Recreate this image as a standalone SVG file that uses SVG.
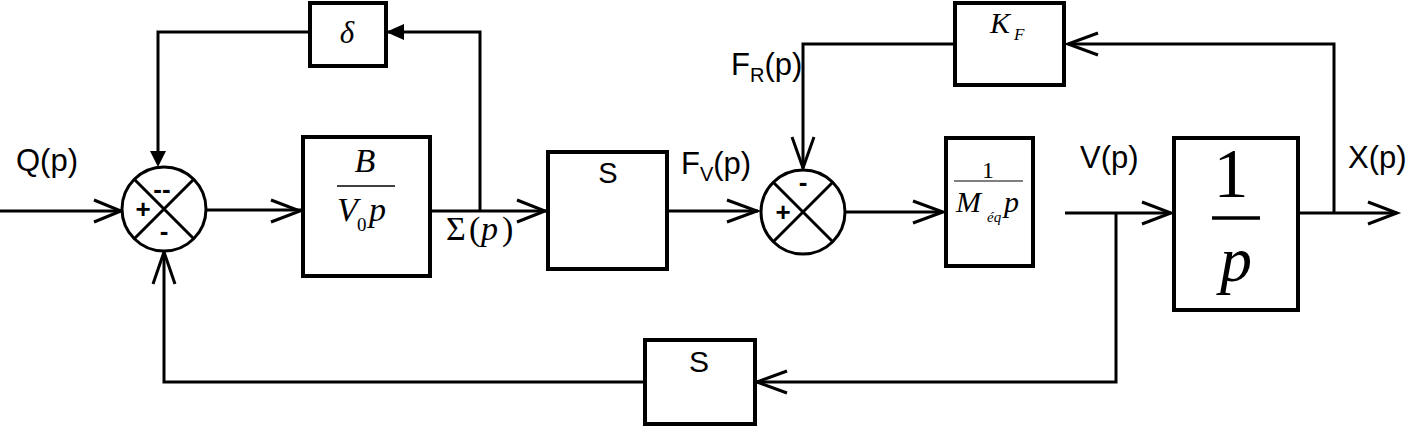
<svg xmlns="http://www.w3.org/2000/svg" width="1411" height="427" viewBox="0 0 1411 427">
<style>
.box{fill:#fff;stroke:#000;stroke-width:4}
.sum{fill:#fff;stroke:#000;stroke-width:3}
.x{stroke:#000;stroke-width:3}
.ln{fill:none;stroke:#000;stroke-width:3}
.ah{fill:none;stroke:#000;stroke-width:3}
.fa{fill:#000;stroke:none}
.lbl{font-family:"Liberation Sans",Arial,sans-serif;fill:#000}
.sub{font-family:"Liberation Sans",Arial,sans-serif;font-size:20px;fill:#000}
.sg{font-family:"Liberation Sans",Arial,sans-serif;font-size:26px;font-weight:bold;fill:#000}
.m{font-family:"Liberation Serif","Times New Roman",serif;font-style:italic;fill:#000}
.mr{font-family:"Liberation Serif","Times New Roman",serif;fill:#000}
</style>
<g id="connectors">
<path class="ln" d="M0 211 H122"/>
<path class="ah" d="M94 200 L121 211 L94 222"/>
<path class="ln" d="M206 210 H302"/>
<path class="ah" d="M271 200 L300 211 L271 222"/>
<path class="ln" d="M431 211 H546"/>
<path class="ah" d="M517 200 L545 211 L517 222"/>
<path class="ln" d="M480 211 V32 H388"/>
<path class="fa" d="M386 32 L404 24 L404 40 Z"/>
<path class="ln" d="M310 32 H158 V152"/>
<path class="fa" d="M158 167 L150 151 L166 151 Z"/>
<path class="ln" d="M645 382 H164 V252"/>
<path class="ah" d="M153 284 L164 252 L175 284"/>
<path class="ln" d="M667 211 H758"/>
<path class="ah" d="M727 200 L757 211 L727 222"/>
<path class="ln" d="M954 44 H803 V168"/>
<path class="ah" d="M792 137 L803 168 L814 137"/>
<path class="ln" d="M846 212 H943"/>
<path class="ah" d="M913 201 L943 212 L913 223"/>
<path class="ln" d="M1065 213 H1171"/>
<path class="ah" d="M1142 202 L1171 213 L1142 224"/>
<path class="ln" d="M1116 213 V382 H757"/>
<path class="ah" d="M787 371 L757 382 L787 393"/>
<path class="ln" d="M1298 213 H1397"/>
<path class="ah" d="M1368 202 L1397 213 L1368 224"/>
<path class="ln" d="M1334 213 V44 H1068"/>
<path class="ah" d="M1098 33 L1068 44 L1098 55"/>
</g>
<g id="sum1">
<circle class="sum" cx="164" cy="209" r="42"/>
<path class="x" d="M134 179 L194 239 M194 179 L134 239"/>
<text class="sg" x="162" y="198" text-anchor="middle">--</text>
<text class="sg" x="143" y="218" text-anchor="middle">+</text>
<text class="sg" x="164" y="240" text-anchor="middle">-</text>
</g>
<g id="delta">
<rect class="box" x="310" y="3" width="76" height="63"/>
<text class="m" x="347" y="43" font-size="31" text-anchor="middle">δ</text>
</g>
<g id="bv0p">
<rect class="box" x="303" y="137" width="127" height="139"/>
<text class="m" x="365" y="172" font-size="34" text-anchor="middle">B</text>
<line x1="337" y1="186" x2="395" y2="186" stroke="#000" stroke-width="1.5"/>
<text class="m" x="337" y="221" font-size="34">V</text>
<text class="mr" x="357" y="231" font-size="19">0</text>
<text class="m" x="369" y="221" font-size="34">p</text>
</g>
<g id="sigma">
<text class="mr" x="446" y="240" font-size="34">Σ</text>
<text class="mr" x="469" y="240" font-size="34">(</text>
<text class="m" x="481" y="240" font-size="34">p</text>
<text class="mr" x="502" y="240" font-size="34">)</text>
</g>
<g id="q">
<text class="lbl" x="16" y="171" font-size="31">Q(p)</text>
</g>
<g id="s1">
<rect class="box" x="548" y="152" width="119" height="117"/>
<text class="lbl" x="608" y="183" text-anchor="middle" font-size="29">S</text>
</g>
<g id="fv">
<text class="lbl" x="681" y="174" font-size="31">F<tspan class="sub" dy="7">V</tspan><tspan dy="-7">(p)</tspan></text>
</g>
<g id="fr">
<text class="lbl" x="731" y="75" font-size="31">F<tspan class="sub" dy="7">R</tspan><tspan dy="-7">(p)</tspan></text>
</g>
<g id="sum2">
<circle class="sum" cx="803" cy="212" r="42"/>
<path class="x" d="M773 182 L833 242 M833 182 L773 242"/>
<text class="sg" x="803" y="191" text-anchor="middle">-</text>
<text class="sg" x="783" y="221" text-anchor="middle">+</text>
</g>
<g id="kf">
<rect class="box" x="955" y="3" width="109" height="82"/>
<text class="m" x="990" y="33" font-size="30">K</text>
<text class="m" x="1014" y="40" font-size="17">F</text>
</g>
<g id="meq">
<rect class="box" x="946" y="138" width="87" height="128"/>
<text class="mr" x="988" y="178" font-size="24" text-anchor="middle">1</text>
<line x1="954" y1="181" x2="1023" y2="181" stroke="#000" stroke-width="1.2"/>
<text class="m" x="956" y="212" font-size="30">M</text>
<text class="m" x="987" y="222" font-size="15">éq</text>
<text class="m" x="1004" y="212" font-size="30">p</text>
</g>
<g id="vp">
<text class="lbl" x="1080" y="168" font-size="31">V(p)</text>
</g>
<g id="integ">
<rect class="box" x="1174" y="138" width="124" height="172"/>
<text class="mr" x="1231" y="197" font-size="70" text-anchor="middle">1</text>
<line x1="1212" y1="218" x2="1260" y2="218" stroke="#000" stroke-width="3.5"/>
<text class="m" x="1236" y="281" font-size="64" text-anchor="middle">p</text>
</g>
<g id="xp">
<text class="lbl" x="1348" y="168" font-size="31">X(p)</text>
</g>
<g id="s2">
<rect class="box" x="645" y="340" width="110" height="84"/>
<text class="lbl" x="699" y="372" text-anchor="middle" font-size="30">S</text>
</g>
</svg>
